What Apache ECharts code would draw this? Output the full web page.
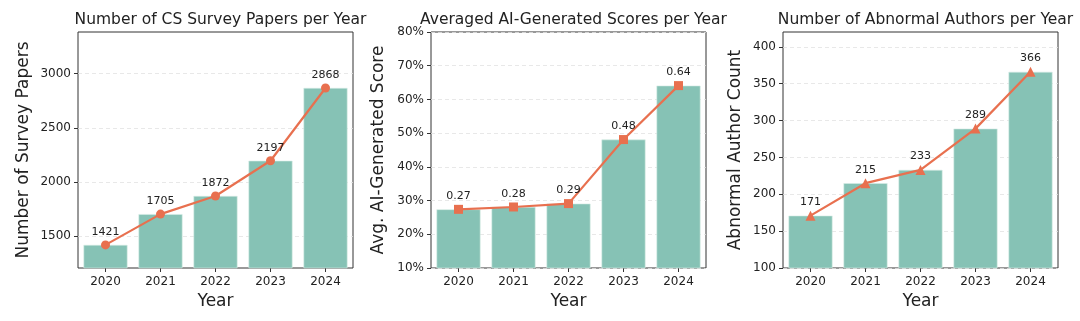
<!DOCTYPE html>
<html>
<head>
<meta charset="utf-8">
<script src="https://cdn.jsdelivr.net/npm/echarts@6/dist/echarts.min.js"></script>
<style>
html,body{margin:0;padding:0;background:#fff;}
#c{width:1080px;height:321px;}
</style>
</head>
<body>
<div id="c"></div>
<script>
const years = ['2020', '2021', '2022', '2023', '2024'];
const surveyPapers = [1421, 1705, 1872, 2197, 2868];
const aiScores = [0.274, 0.281, 0.291, 0.481, 0.641];
const abnormalAuthors = [171, 215, 233, 289, 366];
const ticks1 = [1500, 2000, 2500, 3000];
const ticks2 = [0.1, 0.2, 0.3, 0.4, 0.5, 0.6, 0.7, 0.8];
const ticks3 = [100, 150, 200, 250, 300, 350, 400];
const titles = ['Number of CS Survey Papers per Year', 'Averaged AI-Generated Scores per Year', 'Number of Abnormal Authors per Year'];
const yNames = ['Number of Survey Papers', 'Avg. AI-Generated Score', 'Abnormal Author Count'];

const FONT = 'DejaVu Sans';
const BAR = '#86c2b5';
const LINE = '#e8704f';
const lefts = [78, 431, 783];
const W = 275;
const yRanges = [[1208, 3384], [0.1, 0.8], [100, 420]];
const yTicks = [ticks1, ticks2, ticks3];
const nameGaps = [46, 44, 39];
const symbols = ['circle', 'rect', 'triangle'];
const dataSets = [surveyPapers, aiScores, abnormalAuthors];
const fmtAxis = [v => String(v), v => Math.round(v * 100) + '%', v => String(v)];
const fmtLabel = [v => String(v), v => v.toFixed(2), v => String(v)];

const grid = [], xAxis = [], yAxis = [], series = [], title = [];
for (let i = 0; i < 3; i++) {
  grid.push({left: lefts[i], width: W, top: 32, bottom: 53, show: true, borderColor: '#333', borderWidth: 1, backgroundColor: 'transparent'});
  title.push({text: titles[i], left: lefts[i] + W / 2, top: 7, textAlign: 'center',
    textStyle: {fontFamily: FONT, fontSize: 15.5, fontWeight: 'normal', color: '#222'}});
  xAxis.push({type: 'category', gridIndex: i, data: years,
    name: 'Year', nameLocation: 'middle', nameGap: 25,
    nameTextStyle: {fontFamily: FONT, fontSize: 17, color: '#222'},
    axisLine: {show: false}, axisTick: {show: true, alignWithLabel: true, length: 4, lineStyle: {color: '#333'}},
    axisLabel: {fontFamily: FONT, fontSize: 12, color: '#222', margin: 8},
    splitLine: {show: false}});
  yAxis.push({type: 'value', gridIndex: i, min: yRanges[i][0], max: yRanges[i][1],
    name: yNames[i], nameLocation: 'middle', nameGap: nameGaps[i],
    nameTextStyle: {fontFamily: FONT, fontSize: 17, color: '#222'},
    axisLine: {show: false},
    axisTick: {show: true, length: 4, lineStyle: {color: '#333'}, customValues: yTicks[i]},
    axisLabel: {fontFamily: FONT, fontSize: 12, color: '#222', margin: 7, customValues: yTicks[i], formatter: fmtAxis[i]},
    splitLine: {show: true, lineStyle: {color: '#e2e2e2', type: [4, 3], width: 0.8}}});
  series.push({type: 'bar', xAxisIndex: i, yAxisIndex: i, data: dataSets[i], barWidth: '80%',
    itemStyle: {color: BAR, borderColor: '#d6ece6', borderWidth: 0.6}, z: 2});
  series.push({type: 'line', xAxisIndex: i, yAxisIndex: i, data: dataSets[i],
    symbol: symbols[i], symbolSize: i === 2 ? 10 : 9,
    lineStyle: {color: LINE, width: 2.2}, itemStyle: {color: LINE},
    label: {show: true, position: 'top', distance: 3, fontFamily: FONT, fontSize: 11, color: '#222',
      formatter: (p => fmtLabel[i](p.value))},
    z: 3});
}

const chart = echarts.init(document.getElementById('c'), null, {renderer: 'canvas'});
chart.setOption({animation: false, backgroundColor: '#fff', title, grid, xAxis, yAxis, series});
</script>
</body>
</html>
